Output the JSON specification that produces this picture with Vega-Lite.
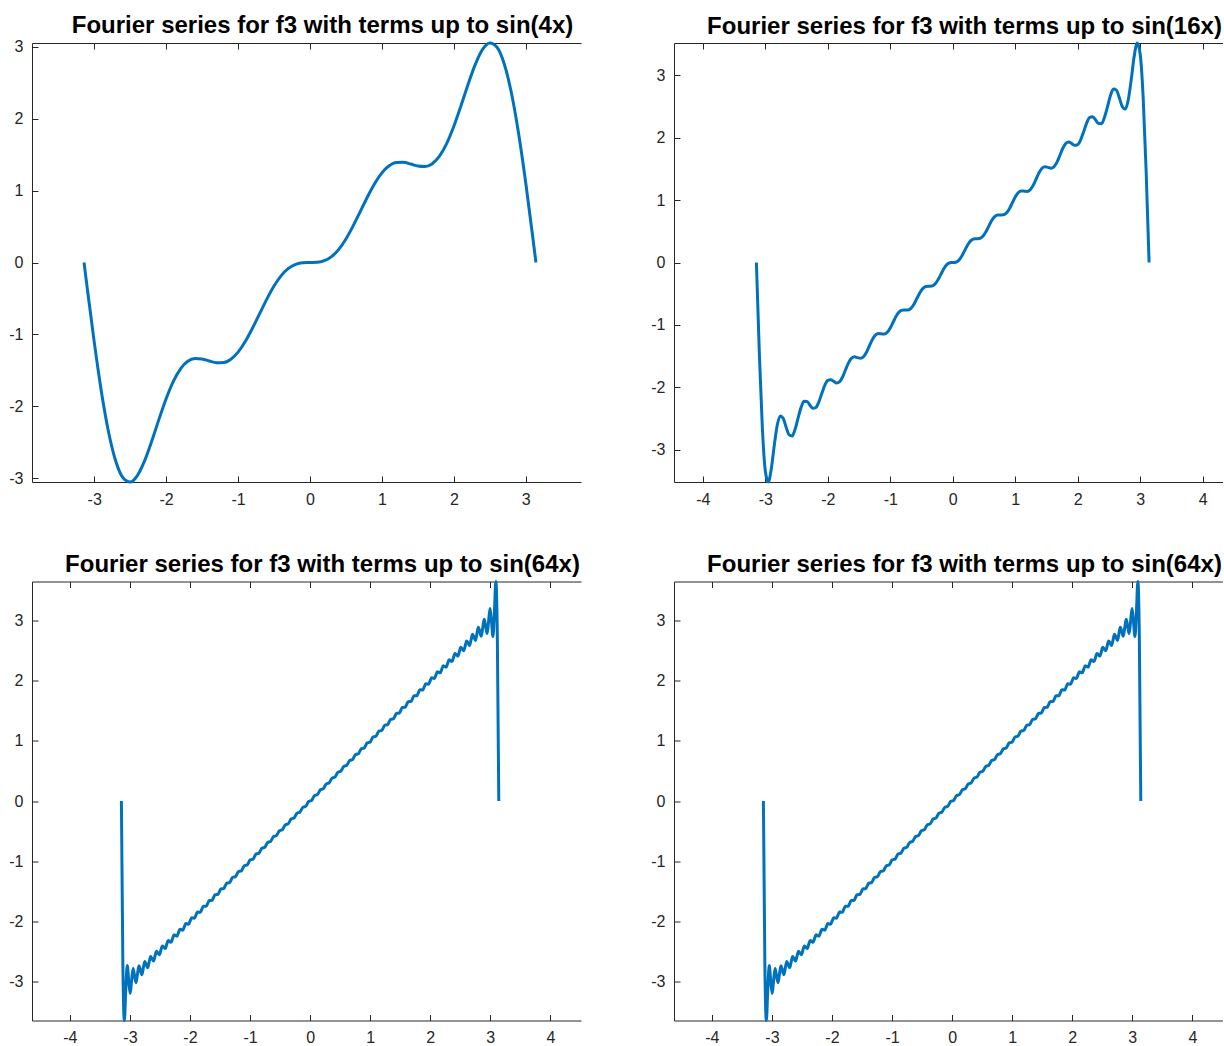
{
  "$schema": "https://vega.github.io/schema/vega-lite/v6.json",
  "background": "white",
  "padding": {"left": 0, "right": 0, "top": 14, "bottom": 0},
  "config": {
    "view": {"stroke": null},
    "font": "Liberation Sans",
    "axis": {
      "grid": false,
      "title": null,
      "domainColor": "#262626",
      "tickColor": "#262626",
      "labelColor": "#262626",
      "labelFont": "Liberation Sans",
      "labelFontSize": 16,
      "tickSize": -6,
      "domainWidth": 1,
      "tickWidth": 1,
      "labelFlush": false,
      "labelOverlap": false
    },
    "title": {
      "font": "Liberation Sans",
      "fontSize": 24,
      "fontWeight": "bold",
      "color": "#000000",
      "anchor": "middle",
      "frame": "group",
      "dx": 16,
      "offset": -1.5,
      "baseline": "alphabetic"
    },
    "line": {"color": "#0072BD", "strokeWidth": 3, "interpolate": "monotone", "clip": true}
  },
  "datasets": {
    "s4": [
      {"x":-3.1416,"y":0},{"x":-3.1,"y":-0.3320},{"x":-3.0,"y":-1.1047},{"x":-2.9,"y":-1.7965},{"x":-2.8,"y":-2.3605},{"x":-2.7,"y":-2.7646},{"x":-2.6,"y":-2.9941},{"x":-2.5,"y":-3.0532},{"x":-2.4,"y":-2.9634},{"x":-2.3,"y":-2.7593},{"x":-2.2,"y":-2.4838},{"x":-2.1,"y":-2.1819},{"x":-2.0,"y":-1.8944},{"x":-1.9,"y":-1.6534},{"x":-1.8,"y":-1.4782},{"x":-1.7,"y":-1.3746},{"x":-1.6,"y":-1.3351},{"x":-1.5,"y":-1.3419},{"x":-1.4,"y":-1.3705},{"x":-1.3,"y":-1.3948},{"x":-1.2,"y":-1.3917},{"x":-1.1,"y":-1.3446},{"x":-1.0,"y":-1.2461},{"x":-0.9,"y":-1.0990},{"x":-0.8,"y":-0.9147},{"x":-0.7,"y":-0.7110},{"x":-0.6,"y":-0.5087},{"x":-0.5,"y":-0.3277},{"x":-0.4,"y":-0.1831},{"x":-0.3,"y":-0.0826},{"x":-0.2,"y":-0.0257},{"x":-0.1,"y":-0.0033},
      {"x":0,"y":0},
      {"x":0.1,"y":0.0033},{"x":0.2,"y":0.0257},{"x":0.3,"y":0.0826},{"x":0.4,"y":0.1831},{"x":0.5,"y":0.3277},{"x":0.6,"y":0.5087},{"x":0.7,"y":0.7110},{"x":0.8,"y":0.9147},{"x":0.9,"y":1.0990},{"x":1.0,"y":1.2461},{"x":1.1,"y":1.3446},{"x":1.2,"y":1.3917},{"x":1.3,"y":1.3948},{"x":1.4,"y":1.3705},{"x":1.5,"y":1.3419},{"x":1.6,"y":1.3351},{"x":1.7,"y":1.3746},{"x":1.8,"y":1.4782},{"x":1.9,"y":1.6534},{"x":2.0,"y":1.8944},{"x":2.1,"y":2.1819},{"x":2.2,"y":2.4838},{"x":2.3,"y":2.7593},{"x":2.4,"y":2.9634},{"x":2.5,"y":3.0532},{"x":2.6,"y":2.9941},{"x":2.7,"y":2.7646},{"x":2.8,"y":2.3605},{"x":2.9,"y":1.7965},{"x":3.0,"y":1.1047},{"x":3.1,"y":0.3320},{"x":3.1416,"y":0}
    ],
    "s16": [
      {"x":-3.1416,"y":0},{"x":-3.0940,"y":-1.4704},{"x":-3.0464,"y":-2.6463},{"x":-2.9988,"y":-3.3367},{"x":-2.9512,"y":-3.5135},{"x":-2.9036,"y":-3.3054},{"x":-2.8560,"y":-2.9311},{"x":-2.8084,"y":-2.6049},{"x":-2.7608,"y":-2.4555},{"x":-2.7132,"y":-2.4941},{"x":-2.6656,"y":-2.6357},{"x":-2.6180,"y":-2.7601},{"x":-2.5704,"y":-2.7783},{"x":-2.5228,"y":-2.6719},{"x":-2.4752,"y":-2.4910},{"x":-2.4276,"y":-2.3233},{"x":-2.3800,"y":-2.2227},{"x":-2.3324,"y":-2.2235},{"x":-2.2848,"y":-2.2848},{"x":-2.2372,"y":-2.3353},{"x":-2.1896,"y":-2.3219},{"x":-2.1420,"y":-2.2314},{"x":-2.0944,"y":-2.0944},{"x":-2.0468,"y":-1.9645},{"x":-1.9992,"y":-1.8871},{"x":-1.9516,"y":-1.8751},{"x":-1.9040,"y":-1.9040},{"x":-1.8564,"y":-1.9279},{"x":-1.8088,"y":-1.9068},{"x":-1.7612,"y":-1.8285},{"x":-1.7136,"y":-1.7136},{"x":-1.6660,"y":-1.6023},{"x":-1.6184,"y":-1.5306},{"x":-1.5708,"y":-1.5102},{"x":-1.5232,"y":-1.5232},{"x":-1.4756,"y":-1.5335},{"x":-1.4280,"y":-1.5082},{"x":-1.3804,"y":-1.4360},{"x":-1.3328,"y":-1.3328},{"x":-1.2852,"y":-1.2317},{"x":-1.2376,"y":-1.1632},{"x":-1.1900,"y":-1.1383},{"x":-1.1424,"y":-1.1424},{"x":-1.0948,"y":-1.1450},{"x":-1.0472,"y":-1.1172},{"x":-0.9996,"y":-1.0484},{"x":-0.9520,"y":-0.9520},{"x":-0.9044,"y":-0.8568},{"x":-0.8568,"y":-0.7902},{"x":-0.8092,"y":-0.7626},{"x":-0.7616,"y":-0.7616},{"x":-0.7140,"y":-0.7597},{"x":-0.6664,"y":-0.7305},{"x":-0.6188,"y":-0.6638},{"x":-0.5712,"y":-0.5712},{"x":-0.5236,"y":-0.4792},{"x":-0.4760,"y":-0.4136},{"x":-0.4284,"y":-0.3845},{"x":-0.3808,"y":-0.3808},{"x":-0.3332,"y":-0.3767},{"x":-0.2856,"y":-0.3468},{"x":-0.2380,"y":-0.2812},{"x":-0.1904,"y":-0.1904},{"x":-0.1428,"y":-0.0998},{"x":-0.0952,"y":-0.0345},{"x":-0.0476,"y":-0.0047},
      {"x":0,"y":0},
      {"x":0.0476,"y":0.0047},{"x":0.0952,"y":0.0345},{"x":0.1428,"y":0.0998},{"x":0.1904,"y":0.1904},{"x":0.2380,"y":0.2812},{"x":0.2856,"y":0.3468},{"x":0.3332,"y":0.3767},{"x":0.3808,"y":0.3808},{"x":0.4284,"y":0.3845},{"x":0.4760,"y":0.4136},{"x":0.5236,"y":0.4792},{"x":0.5712,"y":0.5712},{"x":0.6188,"y":0.6638},{"x":0.6664,"y":0.7305},{"x":0.7140,"y":0.7597},{"x":0.7616,"y":0.7616},{"x":0.8092,"y":0.7626},{"x":0.8568,"y":0.7902},{"x":0.9044,"y":0.8568},{"x":0.9520,"y":0.9520},{"x":0.9996,"y":1.0484},{"x":1.0472,"y":1.1172},{"x":1.0948,"y":1.1450},{"x":1.1424,"y":1.1424},{"x":1.1900,"y":1.1383},{"x":1.2376,"y":1.1632},{"x":1.2852,"y":1.2317},{"x":1.3328,"y":1.3328},{"x":1.3804,"y":1.4360},{"x":1.4280,"y":1.5082},{"x":1.4756,"y":1.5335},{"x":1.5232,"y":1.5232},{"x":1.5708,"y":1.5102},{"x":1.6184,"y":1.5306},{"x":1.6660,"y":1.6023},{"x":1.7136,"y":1.7136},{"x":1.7612,"y":1.8285},{"x":1.8088,"y":1.9068},{"x":1.8564,"y":1.9279},{"x":1.9040,"y":1.9040},{"x":1.9516,"y":1.8751},{"x":1.9992,"y":1.8871},{"x":2.0468,"y":1.9645},{"x":2.0944,"y":2.0944},{"x":2.1420,"y":2.2314},{"x":2.1896,"y":2.3219},{"x":2.2372,"y":2.3353},{"x":2.2848,"y":2.2848},{"x":2.3324,"y":2.2235},{"x":2.3800,"y":2.2227},{"x":2.4276,"y":2.3233},{"x":2.4752,"y":2.4910},{"x":2.5228,"y":2.6719},{"x":2.5704,"y":2.7783},{"x":2.6180,"y":2.7601},{"x":2.6656,"y":2.6357},{"x":2.7132,"y":2.4941},{"x":2.7608,"y":2.4555},{"x":2.8084,"y":2.6049},{"x":2.8560,"y":2.9311},{"x":2.9036,"y":3.3054},{"x":2.9512,"y":3.5135},{"x":2.9988,"y":3.3367},{"x":3.0464,"y":2.6463},{"x":3.0940,"y":1.4704},{"x":3.1416,"y":0}
    ],
    "s64": [
      {"x":-3.1416,"y":0},{"x":-3.1172,"y":-2.7172},{"x":-3.0929,"y":-3.6552},{"x":-3.0685,"y":-3.1437},{"x":-3.0442,"y":-2.7389},{"x":-3.0198,"y":-2.9900},{"x":-2.9955,"y":-3.2034},{"x":-2.9711,"y":-2.9869},{"x":-2.9468,"y":-2.7895},{"x":-2.9224,"y":-2.9127},{"x":-2.8981,"y":-3.0244},{"x":-2.8737,"y":-2.8803},{"x":-2.8494,"y":-2.7439},{"x":-2.8250,"y":-2.8203},{"x":-2.8006,"y":-2.8912},{"x":-2.7763,"y":-2.7799},{"x":-2.7519,"y":-2.6726},{"x":-2.7276,"y":-2.7276},{"x":-2.7032,"y":-2.7746},{"x":-2.6789,"y":-2.6789},{"x":-2.6545,"y":-2.5902},{"x":-2.6302,"y":-2.6302},{"x":-2.6058,"y":-2.6644},{"x":-2.5815,"y":-2.5815},{"x":-2.5571,"y":-2.5033},{"x":-2.5328,"y":-2.5328},{"x":-2.5084,"y":-2.5582},{"x":-2.4841,"y":-2.4841},{"x":-2.4597,"y":-2.4133},{"x":-2.4354,"y":-2.4354},{"x":-2.4110,"y":-2.4544},{"x":-2.3866,"y":-2.3866},{"x":-2.3623,"y":-2.3215},{"x":-2.3379,"y":-2.3379},{"x":-2.3136,"y":-2.3521},{"x":-2.2892,"y":-2.2892},{"x":-2.2649,"y":-2.2284},{"x":-2.2405,"y":-2.2405},{"x":-2.2162,"y":-2.2509},{"x":-2.1918,"y":-2.1918},{"x":-2.1675,"y":-2.1343},{"x":-2.1431,"y":-2.1431},{"x":-2.1188,"y":-2.1504},{"x":-2.0944,"y":-2.0944},{"x":-2.0700,"y":-2.0397},{"x":-2.0457,"y":-2.0457},{"x":-2.0213,"y":-2.0505},{"x":-1.9970,"y":-1.9970},{"x":-1.9726,"y":-1.9445},{"x":-1.9483,"y":-1.9483},{"x":-1.9239,"y":-1.9510},{"x":-1.8996,"y":-1.8996},{"x":-1.8752,"y":-1.8490},{"x":-1.8509,"y":-1.8509},{"x":-1.8265,"y":-1.8519},{"x":-1.8022,"y":-1.8022},{"x":-1.7778,"y":-1.7532},{"x":-1.7535,"y":-1.7535},{"x":-1.7291,"y":-1.7530},{"x":-1.7047,"y":-1.7047},{"x":-1.6804,"y":-1.6572},{"x":-1.6560,"y":-1.6560},{"x":-1.6317,"y":-1.6543},{"x":-1.6073,"y":-1.6073},{"x":-1.5830,"y":-1.5609},{"x":-1.5586,"y":-1.5586},{"x":-1.5343,"y":-1.5558},{"x":-1.5099,"y":-1.5099},{"x":-1.4856,"y":-1.4645},{"x":-1.4612,"y":-1.4612},{"x":-1.4369,"y":-1.4575},{"x":-1.4125,"y":-1.4125},{"x":-1.3882,"y":-1.3680},{"x":-1.3638,"y":-1.3638},{"x":-1.3394,"y":-1.3592},{"x":-1.3151,"y":-1.3151},{"x":-1.2907,"y":-1.2713},{"x":-1.2664,"y":-1.2664},{"x":-1.2420,"y":-1.2611},{"x":-1.2177,"y":-1.2177},{"x":-1.1933,"y":-1.1746},{"x":-1.1690,"y":-1.1690},{"x":-1.1446,"y":-1.1631},{"x":-1.1203,"y":-1.1203},{"x":-1.0959,"y":-1.0778},{"x":-1.0716,"y":-1.0716},{"x":-1.0472,"y":-1.0651},{"x":-1.0228,"y":-1.0228},{"x":-0.9985,"y":-0.9808},{"x":-0.9741,"y":-0.9741},{"x":-0.9498,"y":-0.9672},{"x":-0.9254,"y":-0.9254},{"x":-0.9011,"y":-0.8839},{"x":-0.8767,"y":-0.8767},{"x":-0.8524,"y":-0.8694},{"x":-0.8280,"y":-0.8280},{"x":-0.8037,"y":-0.7868},{"x":-0.7793,"y":-0.7793},{"x":-0.7550,"y":-0.7716},{"x":-0.7306,"y":-0.7306},{"x":-0.7063,"y":-0.6897},{"x":-0.6819,"y":-0.6819},{"x":-0.6575,"y":-0.6739},{"x":-0.6332,"y":-0.6332},{"x":-0.6088,"y":-0.5926},{"x":-0.5845,"y":-0.5845},{"x":-0.5601,"y":-0.5763},{"x":-0.5358,"y":-0.5358},{"x":-0.5114,"y":-0.4954},{"x":-0.4871,"y":-0.4871},{"x":-0.4627,"y":-0.4787},{"x":-0.4384,"y":-0.4384},{"x":-0.4140,"y":-0.3982},{"x":-0.3897,"y":-0.3897},{"x":-0.3653,"y":-0.3811},{"x":-0.3410,"y":-0.3410},{"x":-0.3166,"y":-0.3009},{"x":-0.2922,"y":-0.2922},{"x":-0.2679,"y":-0.2835},{"x":-0.2435,"y":-0.2435},{"x":-0.2192,"y":-0.2036},{"x":-0.1948,"y":-0.1948},{"x":-0.1705,"y":-0.1860},{"x":-0.1461,"y":-0.1461},{"x":-0.1218,"y":-0.1062},{"x":-0.0974,"y":-0.0974},{"x":-0.0731,"y":-0.0886},{"x":-0.0487,"y":-0.0487},{"x":-0.0244,"y":-0.0089},
      {"x":0,"y":0},
      {"x":0.0244,"y":0.0089},{"x":0.0487,"y":0.0487},{"x":0.0731,"y":0.0886},{"x":0.0974,"y":0.0974},{"x":0.1218,"y":0.1062},{"x":0.1461,"y":0.1461},{"x":0.1705,"y":0.1860},{"x":0.1948,"y":0.1948},{"x":0.2192,"y":0.2036},{"x":0.2435,"y":0.2435},{"x":0.2679,"y":0.2835},{"x":0.2922,"y":0.2922},{"x":0.3166,"y":0.3009},{"x":0.3410,"y":0.3410},{"x":0.3653,"y":0.3811},{"x":0.3897,"y":0.3897},{"x":0.4140,"y":0.3982},{"x":0.4384,"y":0.4384},{"x":0.4627,"y":0.4787},{"x":0.4871,"y":0.4871},{"x":0.5114,"y":0.4954},{"x":0.5358,"y":0.5358},{"x":0.5601,"y":0.5763},{"x":0.5845,"y":0.5845},{"x":0.6088,"y":0.5926},{"x":0.6332,"y":0.6332},{"x":0.6575,"y":0.6739},{"x":0.6819,"y":0.6819},{"x":0.7063,"y":0.6897},{"x":0.7306,"y":0.7306},{"x":0.7550,"y":0.7716},{"x":0.7793,"y":0.7793},{"x":0.8037,"y":0.7868},{"x":0.8280,"y":0.8280},{"x":0.8524,"y":0.8694},{"x":0.8767,"y":0.8767},{"x":0.9011,"y":0.8839},{"x":0.9254,"y":0.9254},{"x":0.9498,"y":0.9672},{"x":0.9741,"y":0.9741},{"x":0.9985,"y":0.9808},{"x":1.0228,"y":1.0228},{"x":1.0472,"y":1.0651},{"x":1.0716,"y":1.0716},{"x":1.0959,"y":1.0778},{"x":1.1203,"y":1.1203},{"x":1.1446,"y":1.1631},{"x":1.1690,"y":1.1690},{"x":1.1933,"y":1.1746},{"x":1.2177,"y":1.2177},{"x":1.2420,"y":1.2611},{"x":1.2664,"y":1.2664},{"x":1.2907,"y":1.2713},{"x":1.3151,"y":1.3151},{"x":1.3394,"y":1.3592},{"x":1.3638,"y":1.3638},{"x":1.3882,"y":1.3680},{"x":1.4125,"y":1.4125},{"x":1.4369,"y":1.4575},{"x":1.4612,"y":1.4612},{"x":1.4856,"y":1.4645},{"x":1.5099,"y":1.5099},{"x":1.5343,"y":1.5558},{"x":1.5586,"y":1.5586},{"x":1.5830,"y":1.5609},{"x":1.6073,"y":1.6073},{"x":1.6317,"y":1.6543},{"x":1.6560,"y":1.6560},{"x":1.6804,"y":1.6572},{"x":1.7047,"y":1.7047},{"x":1.7291,"y":1.7530},{"x":1.7535,"y":1.7535},{"x":1.7778,"y":1.7532},{"x":1.8022,"y":1.8022},{"x":1.8265,"y":1.8519},{"x":1.8509,"y":1.8509},{"x":1.8752,"y":1.8490},{"x":1.8996,"y":1.8996},{"x":1.9239,"y":1.9510},{"x":1.9483,"y":1.9483},{"x":1.9726,"y":1.9445},{"x":1.9970,"y":1.9970},{"x":2.0213,"y":2.0505},{"x":2.0457,"y":2.0457},{"x":2.0700,"y":2.0397},{"x":2.0944,"y":2.0944},{"x":2.1188,"y":2.1504},{"x":2.1431,"y":2.1431},{"x":2.1675,"y":2.1343},{"x":2.1918,"y":2.1918},{"x":2.2162,"y":2.2509},{"x":2.2405,"y":2.2405},{"x":2.2649,"y":2.2284},{"x":2.2892,"y":2.2892},{"x":2.3136,"y":2.3521},{"x":2.3379,"y":2.3379},{"x":2.3623,"y":2.3215},{"x":2.3866,"y":2.3866},{"x":2.4110,"y":2.4544},{"x":2.4354,"y":2.4354},{"x":2.4597,"y":2.4133},{"x":2.4841,"y":2.4841},{"x":2.5084,"y":2.5582},{"x":2.5328,"y":2.5328},{"x":2.5571,"y":2.5033},{"x":2.5815,"y":2.5815},{"x":2.6058,"y":2.6644},{"x":2.6302,"y":2.6302},{"x":2.6545,"y":2.5902},{"x":2.6789,"y":2.6789},{"x":2.7032,"y":2.7746},{"x":2.7276,"y":2.7276},{"x":2.7519,"y":2.6726},{"x":2.7763,"y":2.7799},{"x":2.8006,"y":2.8912},{"x":2.8250,"y":2.8203},{"x":2.8494,"y":2.7439},{"x":2.8737,"y":2.8803},{"x":2.8981,"y":3.0244},{"x":2.9224,"y":2.9127},{"x":2.9468,"y":2.7895},{"x":2.9711,"y":2.9869},{"x":2.9955,"y":3.2034},{"x":3.0198,"y":2.9900},{"x":3.0442,"y":2.7389},{"x":3.0685,"y":3.1437},{"x":3.0929,"y":3.6552},{"x":3.1172,"y":2.7172},{"x":3.1416,"y":0}
    ]
  },
  "spacing": 40.5,
  "vconcat": [
    {
      "spacing": 61,
      "hconcat": [
        {
          "title": "Fourier series for f3 with terms up to sin(4x)",
          "width": 549,
          "height": 439,
          "data": {"name": "s4"},
          "layer": [
            {
              "mark": {"type": "line"},
              "encoding": {
                "x": {"field": "x", "type": "quantitative", "scale": {"domain": [-3.865, 3.768], "nice": false, "zero": false},
                      "axis": {"orient": "bottom", "values": [-3, -2, -1, 0, 1, 2, 3], "labelExpr": "'' + datum.value", "labelPadding": 15, "minExtent": 30, "maxExtent": 30}},
                "y": {"field": "y", "type": "quantitative", "scale": {"domain": [-3.053, 3.053], "nice": false, "zero": false},
                      "axis": {"values": [-3, -2, -1, 0, 1, 2, 3], "labelExpr": "'' + datum.value", "labelPadding": 15, "minExtent": 32, "maxExtent": 32}}
              }
            },
            {
              "mark": {"type": "line", "opacity": 0},
              "encoding": {
                "x": {"field": "x", "type": "quantitative",
                      "axis": {"orient": "top", "values": [-3, -2, -1, 0, 1, 2, 3], "labels": false, "minExtent": 0, "maxExtent": 0}},
                "y": {"field": "y", "type": "quantitative"}
              }
            }
          ],
          "resolve": {"axis": {"x": "independent"}}
        },
        {
          "title": "Fourier series for f3 with terms up to sin(16x)",
          "width": 549,
          "height": 439,
          "data": {"name": "s16"},
          "layer": [
            {
              "mark": {"type": "line"},
              "encoding": {
                "x": {"field": "x", "type": "quantitative", "scale": {"domain": [-4.46, 4.324], "nice": false, "zero": false},
                      "axis": {"orient": "bottom", "values": [-4, -3, -2, -1, 0, 1, 2, 3, 4], "labelExpr": "'' + datum.value", "labelPadding": 15, "minExtent": 30, "maxExtent": 30}},
                "y": {"field": "y", "type": "quantitative", "scale": {"domain": [-3.514, 3.514], "nice": false, "zero": false},
                      "axis": {"values": [-3, -2, -1, 0, 1, 2, 3], "labelExpr": "'' + datum.value", "labelPadding": 15, "minExtent": 32, "maxExtent": 32}}
              }
            },
            {
              "mark": {"type": "line", "opacity": 0},
              "encoding": {
                "x": {"field": "x", "type": "quantitative",
                      "axis": {"orient": "top", "values": [-4, -3, -2, -1, 0, 1, 2, 3, 4], "labels": false, "minExtent": 0, "maxExtent": 0}},
                "y": {"field": "y", "type": "quantitative"}
              }
            }
          ],
          "resolve": {"axis": {"x": "independent"}}
        }
      ]
    },
    {
      "spacing": 61,
      "hconcat": [
        {
          "title": "Fourier series for f3 with terms up to sin(64x)",
          "width": 549,
          "height": 439,
          "data": {"name": "s64"},
          "layer": [
            {
              "mark": {"type": "line"},
              "encoding": {
                "x": {"field": "x", "type": "quantitative", "scale": {"domain": [-4.63, 4.51], "nice": false, "zero": false},
                      "axis": {"orient": "bottom", "values": [-4, -3, -2, -1, 0, 1, 2, 3, 4], "labelExpr": "'' + datum.value", "labelPadding": 15, "minExtent": 24, "maxExtent": 24}},
                "y": {"field": "y", "type": "quantitative", "scale": {"domain": [-3.655, 3.655], "nice": false, "zero": false},
                      "axis": {"values": [-3, -2, -1, 0, 1, 2, 3], "labelExpr": "'' + datum.value", "labelPadding": 15, "minExtent": 32, "maxExtent": 32}}
              }
            },
            {
              "mark": {"type": "line", "opacity": 0},
              "encoding": {
                "x": {"field": "x", "type": "quantitative",
                      "axis": {"orient": "top", "values": [-4, -3, -2, -1, 0, 1, 2, 3, 4], "labels": false, "minExtent": 0, "maxExtent": 0}},
                "y": {"field": "y", "type": "quantitative"}
              }
            }
          ],
          "resolve": {"axis": {"x": "independent"}}
        },
        {
          "title": "Fourier series for f3 with terms up to sin(64x)",
          "width": 549,
          "height": 439,
          "data": {"name": "s64"},
          "layer": [
            {
              "mark": {"type": "line"},
              "encoding": {
                "x": {"field": "x", "type": "quantitative", "scale": {"domain": [-4.63, 4.51], "nice": false, "zero": false},
                      "axis": {"orient": "bottom", "values": [-4, -3, -2, -1, 0, 1, 2, 3, 4], "labelExpr": "'' + datum.value", "labelPadding": 15, "minExtent": 24, "maxExtent": 24}},
                "y": {"field": "y", "type": "quantitative", "scale": {"domain": [-3.655, 3.655], "nice": false, "zero": false},
                      "axis": {"values": [-3, -2, -1, 0, 1, 2, 3], "labelExpr": "'' + datum.value", "labelPadding": 15, "minExtent": 32, "maxExtent": 32}}
              }
            },
            {
              "mark": {"type": "line", "opacity": 0},
              "encoding": {
                "x": {"field": "x", "type": "quantitative",
                      "axis": {"orient": "top", "values": [-4, -3, -2, -1, 0, 1, 2, 3, 4], "labels": false, "minExtent": 0, "maxExtent": 0}},
                "y": {"field": "y", "type": "quantitative"}
              }
            }
          ],
          "resolve": {"axis": {"x": "independent"}}
        }
      ]
    }
  ]
}
